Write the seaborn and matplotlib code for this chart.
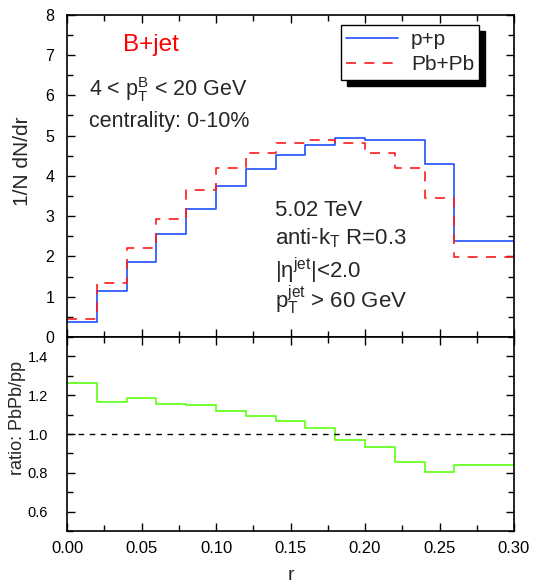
import numpy as np
import pandas as pd
import matplotlib
matplotlib.use("Agg")
import matplotlib.pyplot as plt
import seaborn as sns
from matplotlib.ticker import MultipleLocator, FormatStrFormatter
from matplotlib.patches import Rectangle
from matplotlib.lines import Line2D

# ---------------- data ----------------
r_edges = [0.00, 0.02, 0.04, 0.06, 0.08, 0.10, 0.12, 0.14, 0.16, 0.18,
           0.20, 0.22, 0.24, 0.26, 0.28, 0.30]
pp_vals = [0.37, 1.14, 1.85, 2.55, 3.18, 3.75, 4.16, 4.52, 4.76, 4.95,
           4.90, 4.90, 4.30, 2.37, 2.37]
pbpb_vals = [0.45, 1.33, 2.21, 2.94, 3.66, 4.20, 4.57, 4.82, 4.90, 4.81,
             4.56, 4.19, 3.45, 1.99, 1.99]
ratio_vals = [1.265, 1.164, 1.188, 1.154, 1.147, 1.121, 1.094, 1.065, 1.029,
              0.971, 0.932, 0.856, 0.805, 0.839, 0.839]
series_labels = ["p+p", "Pb+Pb"]

# ---------------- style ----------------
sns.set_theme(style="ticks")
plt.rcParams["font.family"] = ["Liberation Sans", "DejaVu Sans"]
plt.rcParams["mathtext.fontset"] = "custom"
plt.rcParams["mathtext.rm"] = "Liberation Sans"
plt.rcParams["mathtext.it"] = "Liberation Sans"
plt.rcParams["mathtext.bf"] = "Liberation Sans:bold"

BLUE = "#1f50ff"
RED = "#ff1a1a"
GREEN = "#66ff22"


def steps_df(vals):
    return pd.DataFrame({"r": r_edges, "y": list(vals) + [vals[-1]]})


fig = plt.figure(figsize=(5.46, 5.87), dpi=100)
L, R = 67 / 546, 514 / 546
ax1 = fig.add_axes([L, 1 - 337 / 587, R - L, (337 - 14.6) / 587])
ax2 = fig.add_axes([L, 1 - 531 / 587, R - L, (531 - 337) / 587])

# top panel
sns.lineplot(data=steps_df(pp_vals), x="r", y="y", ax=ax1, color=BLUE,
             lw=1.2, drawstyle="steps-post", estimator=None, sort=False)
sns.lineplot(data=steps_df(pbpb_vals), x="r", y="y", ax=ax1, color=RED,
             lw=1.2, drawstyle="steps-post", estimator=None, sort=False)
ax1.lines[1].set_dashes([6, 5])

ax1.set_xlim(0, 0.30)
ax1.set_ylim(0, 8)
ax1.set_xlabel("")
ax1.set_ylabel("1/N dN/dr", fontsize=15)
ax1.yaxis.set_label_coords(-0.078, (337 - 161.5) / (337 - 14.6))
ax1.tick_params(labelbottom=False)

# bottom panel
sns.lineplot(data=steps_df(ratio_vals), x="r", y="y", ax=ax2, color=GREEN,
             lw=1.3, drawstyle="steps-post", estimator=None, sort=False)
ax2.axhline(1.0, color="black", lw=1.0, dashes=[4, 4])
ax2.set_xlim(0, 0.30)
ax2.set_ylim(0.5, 1.5)
ax2.set_xlabel("r", fontsize=14, labelpad=8)
ax2.set_ylabel("ratio: PbPb/pp", fontsize=13)
ax2.yaxis.set_label_coords(-0.092, (531 - 418) / (531 - 337))

for ax in (ax1, ax2):
    ax.xaxis.set_major_locator(MultipleLocator(0.05))
    ax.xaxis.set_minor_locator(MultipleLocator(0.025))
    ax.tick_params(which="both", direction="in", top=True, right=True,
                   labelsize=12, colors="black")
    ax.tick_params(which="major", length=6, width=1.0)
    ax.tick_params(which="minor", length=4, width=1.0)
    for s in ax.spines.values():
        s.set_linewidth(1.2)
        s.set_color("black")
ax1.yaxis.set_major_locator(MultipleLocator(1))
ax1.yaxis.set_minor_locator(MultipleLocator(0.5))
ax2.yaxis.set_major_locator(MultipleLocator(0.2))
ax2.yaxis.set_minor_locator(MultipleLocator(0.1))
ax2.xaxis.set_major_formatter(FormatStrFormatter("%.2f"))
ax2.yaxis.set_major_formatter(FormatStrFormatter("%.1f"))
ax1.yaxis.set_major_formatter(FormatStrFormatter("%d"))
ax2.tick_params(axis="x", pad=7)
ax1.tick_params(axis="y", labelsize=11.5, pad=9)
ax2.tick_params(axis="y", labelsize=10.5, pad=13.5)

# annotations
tr = ax1.transAxes
def ax_xy(px, py):
    return ((px - 67) / (514 - 67), (337 - py) / (337 - 14.6))

ax1.text(*ax_xy(123, 45), "B+jet", color="red", fontsize=17.5,
         transform=tr, va="center", ha="left")
ax1.text(*ax_xy(89, 90), r"4 < p$_\mathregular{T}^\mathregular{B}$ < 20 GeV",
         fontsize=15.5, transform=tr, va="center", ha="left")
ax1.text(*ax_xy(89, 122), "centrality: 0-10%", fontsize=15.5,
         transform=tr, va="center", ha="left")
ax1.text(*ax_xy(275, 210), "5.02 TeV", fontsize=16,
         transform=tr, va="center", ha="left")
ax1.text(*ax_xy(275, 238), r"anti-k$_\mathregular{T}$ R=0.3", fontsize=16,
         transform=tr, va="center", ha="left")
ax1.text(*ax_xy(275, 271), r"|η$^\mathregular{jet}$|<2.0", fontsize=16,
         transform=tr, va="center", ha="left")
ax1.text(*ax_xy(275, 300), r"p$_\mathregular{T}^\mathregular{jet}$ > 60 GeV",
         fontsize=16, transform=tr, va="center", ha="left")

# legend
handles = [Line2D([], [], color=BLUE, lw=1.2),
           Line2D([], [], color=RED, lw=1.2, dashes=[6, 5])]
leg = ax1.legend(handles, series_labels, loc="upper left",
                 bbox_to_anchor=ax_xy(341, 25), fontsize=15,
                 frameon=True, fancybox=False, framealpha=1,
                 edgecolor="black", handlelength=2.5, handletextpad=0.6,
                 borderpad=0.25, labelspacing=0.3, borderaxespad=0)
leg.get_frame().set_linewidth(1.0)
leg.set_zorder(10)

fig.canvas.draw()
bb = leg.get_frame().get_window_extent()
shadow = Rectangle((bb.x0 + 6, bb.y0 - 6), bb.width, bb.height,
                   transform=None, facecolor="black", edgecolor="black",
                   zorder=9, clip_on=False)
ax1.add_artist(shadow)

fig.savefig("out.png", dpi=100)
